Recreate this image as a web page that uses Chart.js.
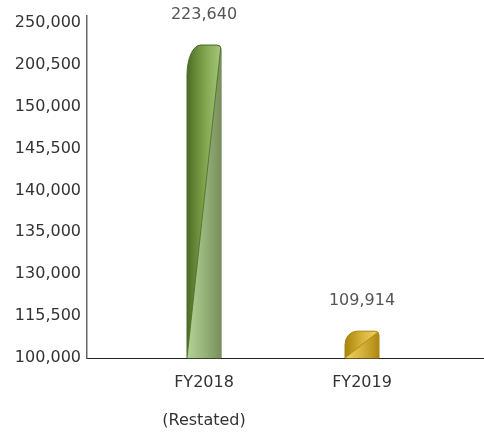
<!DOCTYPE html>
<html>
<head>
<meta charset="utf-8">
<title>Revenue FY2018 - FY2019</title>
<script src="https://cdn.jsdelivr.net/npm/chart.js@4/dist/chart.umd.min.js"></script>
<style>
    html, body { margin: 0; padding: 0; background: #fff; }
    #wrap { width: 484px; height: 435px; position: relative; }
</style>
</head>
<body>
<div id="wrap"><canvas id="revenueChart"></canvas></div>
<script>
const categories = ['FY2018', 'FY2019'];
const categoryNotes = ['(Restated)', ''];
const revenue = [223640, 109914];
// the value axis is stepped, not linear: each label gets one equal slot
const yTickValues = [100000, 115500, 130000, 135000, 140000, 145500, 150000, 200500, 250000];

const FONT = '"DejaVu Sans", sans-serif';

// value -> slot position on the stepped axis
function toAxisPos(v) {
    const t = yTickValues;
    if (v <= t[0]) return 0;
    for (let i = 0; i < t.length - 1; i++) {
        if (v <= t[i + 1]) return i + (v - t[i]) / (t[i + 1] - t[i]);
    }
    const n = t.length - 1;
    return n + (v - t[n]) / (t[n] - t[n - 1]);
}

const barStyles = [
    {upper: ['#4c6d23', '#7fa34c', '#a4c77c'], lower: ['#b3d496', '#97b37a', '#7a8f5c'], edge: '#4a6a26'},
    {upper: ['#a98409', '#d7b43a', '#f1d56a'], lower: ['#edcf6a', '#d6b23c', '#ad8712'], edge: '#a88410'}
];

function hGradient(ctx, x0, x1, stops) {
    const g = ctx.createLinearGradient(x0, 0, x1, 0);
    stops.forEach((c, k) => g.addColorStop(k / (stops.length - 1), c));
    return g;
}

// paints the rounded two-tone bars on top of the (transparent) library bars
const fancyBars = {
    id: 'fancyBars',
    afterDatasetsDraw(chart) {
        const ctx = chart.ctx;
        chart.getDatasetMeta(0).data.forEach((bar, i) => {
            const {x, y, base, width} = bar.getProps(['x', 'y', 'base', 'width'], true);
            const x0 = x - width / 2, x1 = x + width / 2;
            const h = base - y;
            const rx = Math.min(width * 0.4, h * 0.45);
            const ry = Math.min(30, h * 0.5);
            const rr = Math.min(4, h / 4);
            const st = barStyles[i % barStyles.length];

            ctx.save();
            ctx.beginPath();
            ctx.moveTo(x0, base);
            ctx.lineTo(x0, y + ry);
            ctx.ellipse(x0 + rx, y + ry, rx, ry, 0, Math.PI, Math.PI * 1.5);
            ctx.lineTo(x1 - rr, y);
            ctx.arcTo(x1, y, x1, y + rr, rr);
            ctx.lineTo(x1, base);
            ctx.closePath();
            ctx.fillStyle = hGradient(ctx, x0, x1, st.upper);
            ctx.fill();
            ctx.lineWidth = 1;
            ctx.strokeStyle = st.edge;
            ctx.stroke();

            // lighter lower-right half, split on the diagonal
            ctx.clip();
            ctx.beginPath();
            ctx.moveTo(x0, base);
            ctx.lineTo(x1, y);
            ctx.lineTo(x1, base);
            ctx.closePath();
            ctx.fillStyle = hGradient(ctx, x0, x1, st.lower);
            ctx.fill();
            ctx.beginPath();
            ctx.moveTo(x0, base);
            ctx.lineTo(x1, y);
            ctx.strokeStyle = st.edge;
            ctx.lineWidth = 0.8;
            ctx.stroke();
            ctx.restore();

            ctx.save();
            ctx.font = '16px ' + FONT;
            ctx.fillStyle = '#555';
            ctx.textAlign = 'center';
            ctx.textBaseline = 'middle';
            ctx.fillText(revenue[i].toLocaleString('en-US'), x, y - 30);
            ctx.restore();
        });
    }
};

new Chart(document.getElementById('revenueChart'), {
    type: 'bar',
    data: {
        datasets: [{
            data: categories.map((c, i) => ({x: i + 1, y: toAxisPos(revenue[i])})),
            backgroundColor: 'rgba(0,0,0,0)',
            borderWidth: 0,
            barThickness: 34
        }]
    },
    options: {
        responsive: true,
        maintainAspectRatio: false,
        animation: false,
        layout: {padding: {top: 10, right: 0, bottom: 0, left: 0}},
        scales: {
            x: {
                type: 'linear',
                offset: false,
                min: 1 - 117 / 158,
                max: 2 + 122 / 158,
                afterBuildTicks: (scale) => {
                    scale.ticks = categories.map((c, i) => ({value: i + 1}));
                },
                afterFit: (scale) => { scale.height = 77; },
                grid: {display: false, drawTicks: false, offset: false},
                border: {display: true, color: '#222', width: 1},
                ticks: {
                    autoSkip: false,
                    maxRotation: 0,
                    padding: 15,
                    color: '#333',
                    font: {family: FONT, size: 16, lineHeight: '19px'},
                    callback: (v) => {
                        const i = Math.round(v) - 1;
                        return categoryNotes[i] ? [categories[i], '', categoryNotes[i]] : categories[i];
                    }
                }
            },
            y: {
                min: 0,
                max: 8.17,
                afterBuildTicks: (scale) => {
                    scale.ticks = yTickValues.map((t, i) => ({value: i}));
                },
                afterFit: (scale) => { scale.width = 87; },
                grid: {display: false, drawTicks: false},
                border: {display: true, color: '#666', width: 1.5},
                ticks: {
                    padding: 6,
                    color: '#333',
                    font: {family: FONT, size: 16},
                    callback: (v) => yTickValues[Math.round(v)].toLocaleString('en-US')
                }
            }
        },
        plugins: {
            legend: {display: false},
            tooltip: {enabled: false}
        }
    },
    plugins: [fancyBars]
});
</script>
</body>
</html>
